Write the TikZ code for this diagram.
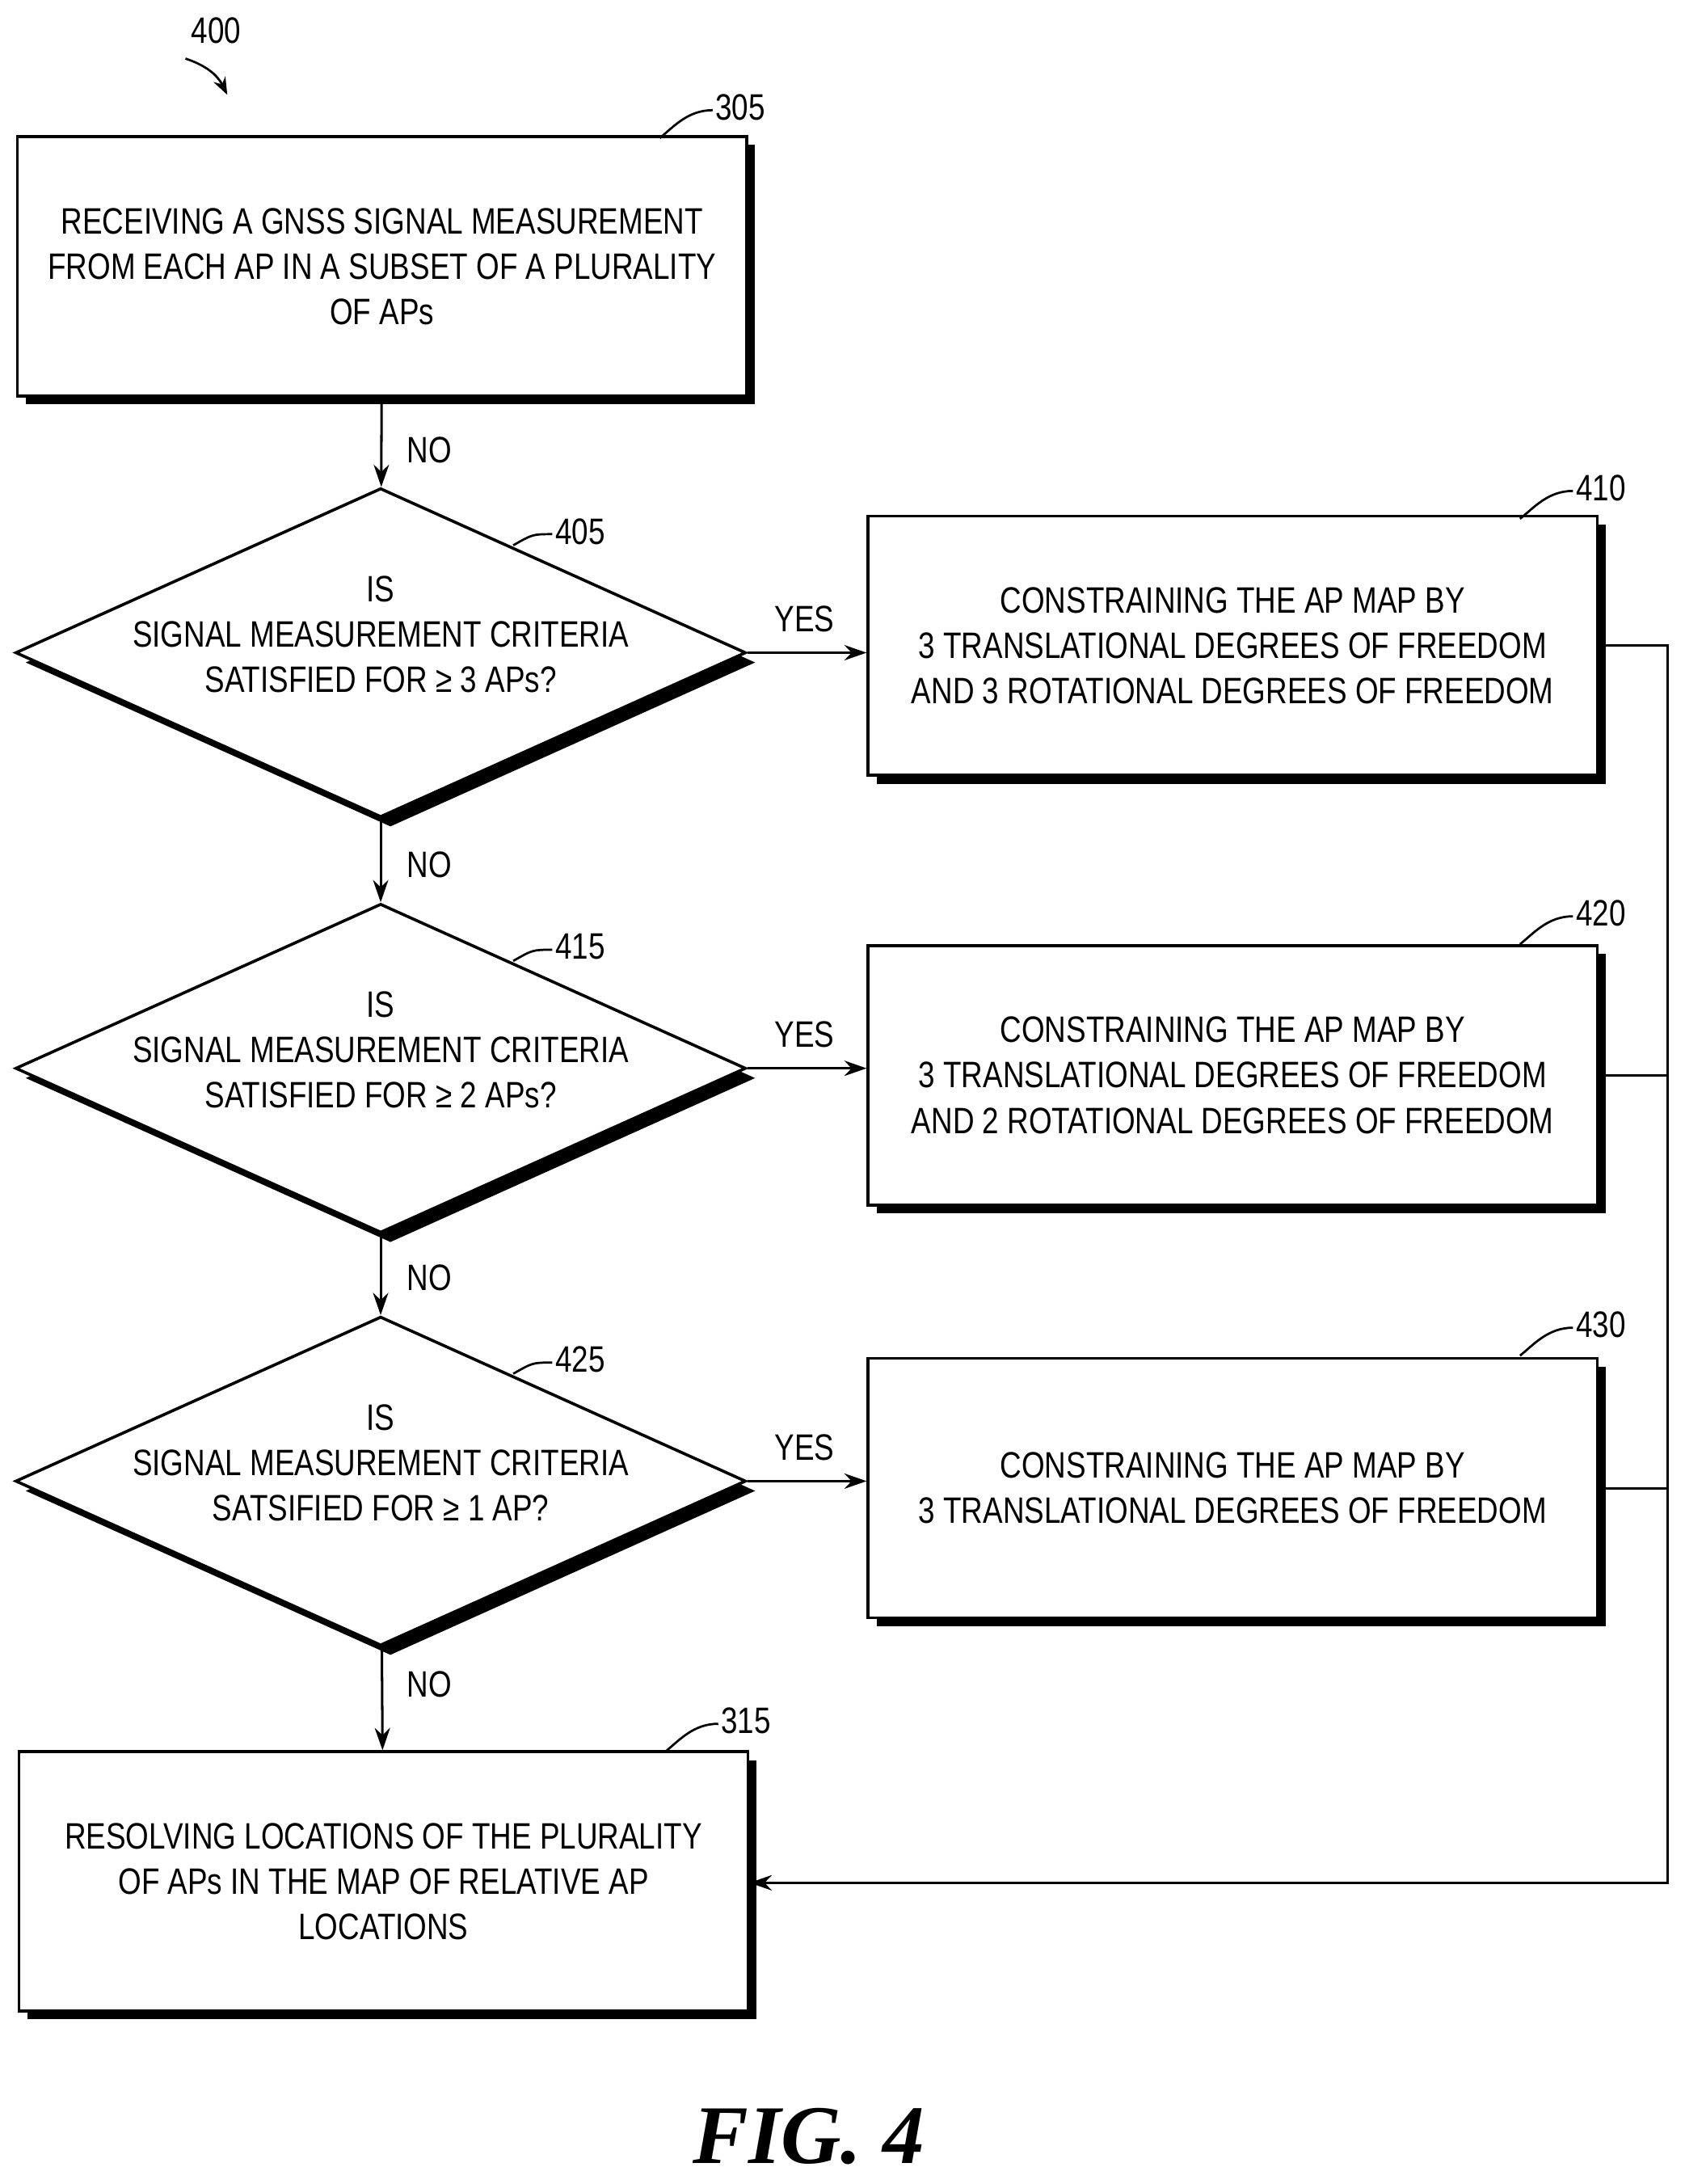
\documentclass[tikz,border=0pt]{standalone}
\usepackage{fontspec}
\setmainfont{Liberation Serif}
\newfontfamily\flowfont[FakeStretch=0.81]{Liberation Sans}
\usetikzlibrary{shapes.geometric,shadows,arrows.meta,calc}

\tikzset{
    procbox/.style={draw, line width=1.2pt, fill=white, minimum width=10.46cm,
        minimum height=3.72cm, inner sep=0pt,
        drop shadow={shadow xshift=0.12cm, shadow yshift=-0.12cm, opacity=1, fill=black}},
    query/.style={diamond, draw, line width=1.2pt, fill=white, minimum width=10.48cm,
        minimum height=4.72cm, aspect=2.2, inner sep=0pt,
        drop shadow={shadow xshift=0.14cm, shadow yshift=-0.14cm, opacity=1, fill=black}},
    txt/.style={align=center, font=\flowfont\fontsize{15}{18.5}\selectfont},
    tag/.style={font=\flowfont\fontsize{15}{18}\selectfont, inner sep=1pt},
    flow/.style={line width=1pt, -{Stealth[length=0.32cm, width=0.22cm]}},
}

\begin{document}
\begin{tikzpicture}[x=0.02cm, y=-0.02cm]
    \useasboundingbox (0,0) rectangle (1208,1566);

    % process boxes
    \node[procbox] (b305) at (274,191) {};
    \node[txt] at (b305) {RECEIVING A GNSS SIGNAL MEASUREMENT\\FROM EACH AP IN A SUBSET OF A PLURALITY\\OF APs};
    \node[procbox] (b410) at (884,463) {};
    \node[txt] at (b410) {CONSTRAINING THE AP MAP BY\\3 TRANSLATIONAL DEGREES OF FREEDOM\\AND 3 ROTATIONAL DEGREES OF FREEDOM};
    \node[procbox] (b420) at (884,771) {};
    \node[txt] at (b420) {CONSTRAINING THE AP MAP BY\\3 TRANSLATIONAL DEGREES OF FREEDOM\\AND 2 ROTATIONAL DEGREES OF FREEDOM};
    \node[procbox] (b430) at (884,1067) {};
    \node[txt] at (b430) {CONSTRAINING THE AP MAP BY\\3 TRANSLATIONAL DEGREES OF FREEDOM};
    \node[procbox] (b315) at (275,1349) {};
    \node[txt] at (b315) {RESOLVING LOCATIONS OF THE  PLURALITY\\OF APs IN THE MAP OF RELATIVE AP\\LOCATIONS};

    % decisions
    \node[query] (d405) at (273,468) {};
    \node[txt] at ($(d405)+(0,-13)$) {IS\\SIGNAL MEASUREMENT CRITERIA\\SATISFIED FOR ≥ 3 APs?};
    \node[query] (d415) at (273,766) {};
    \node[txt] at ($(d415)+(0,-13)$) {IS\\SIGNAL MEASUREMENT CRITERIA\\SATISFIED FOR ≥ 2 APs?};
    \node[query] (d425) at (273,1062) {};
    \node[txt] at ($(d425)+(0,-13)$) {IS\\SIGNAL MEASUREMENT CRITERIA\\SATSIFIED FOR ≥ 1 AP?};

    % connectors
    \draw[flow] (b305) -- (d405);
    \draw[flow] (d405) -- (d415);
    \draw[flow] (d415) -- (d425);
    \draw[flow] (d425) -- (b315);
    \draw[flow] (d405.east) -- (d405.east -| b410.west);
    \draw[flow] (d415.east) -- (d415.east -| b420.west);
    \draw[flow] (d425.east) -- (d425.east -| b430.west);
    \coordinate (bus) at (1196,1350);
    \draw[flow] (b410.east) -| (bus) -- (bus -| b315.east);
    \draw[line width=1pt] (b420.east) -- (b420.east -| bus);
    \draw[line width=1pt] (b430.east) -- (b430.east -| bus);

    % branch labels
    \node[tag] (n1) at (308,323) {NO};
    \node[tag] (n2) at (308,620) {NO};
    \node[tag] (n3) at (308,916) {NO};
    \node[tag] (n4) at (308,1208) {NO};
    \node[tag] (y1) at (577,444) {YES};
    \node[tag] (y2) at (577,742) {YES};
    \node[tag] (y3) at (577,1038) {YES};

    % reference numerals
    \foreach \nm/\x/\y/\lbl in {r305/531/77/305, r410/1148/350/410, r420/1148/655/420,
            r430/1148/950/430, r315/535/1234/315} {
        \node[tag] (\nm) at (\x,\y) {\lbl};
        \draw[line width=0.9pt] ($(\nm.west)+(0,2)$) .. controls +(-18,0) and +(10,-8) .. ++(-38,20);
    }
    \foreach \nm/\y/\lbl in {r405/381/405, r415/679/415, r425/975/425} {
        \node[tag] (\nm) at (416,\y) {\lbl};
        \draw[line width=0.9pt] ($(\nm.west)+(0,2)$) .. controls +(-14,0) .. ++(-28,8);
    }
    \node[tag] (r400) at (155,22) {400};
    \draw[line width=0.9pt, -{Stealth[length=0.25cm]}] (133,42) .. controls (145,46) and (155,52) .. (163,68);

    \node[font=\fontsize{34}{34}\selectfont\bfseries\itshape] (fig) at (580,1532) {FIG. 4};
\end{tikzpicture}
\end{document}
